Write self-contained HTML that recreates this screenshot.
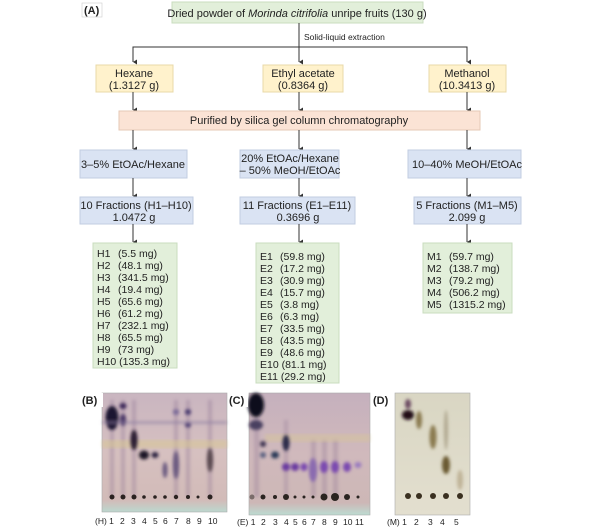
<!DOCTYPE html>
<html><head><meta charset="utf-8"><style>
html,body{margin:0;padding:0;background:#fff;width:600px;height:532px;overflow:hidden}
svg{display:block;font-family:"Liberation Sans",Arial,sans-serif}
</style></head><body>
<svg width="600" height="532" viewBox="0 0 600 532" xmlns="http://www.w3.org/2000/svg">
<defs>
<marker id="a" markerWidth="6" markerHeight="6" refX="3" refY="5" orient="auto" markerUnits="userSpaceOnUse"><path d="M0.5,1 L3,5 L5.5,1 Z" fill="#333"/></marker>
<linearGradient id="gB" x1="0" y1="0" x2="0" y2="1"><stop offset="0" stop-color="#c9b5c0"/><stop offset="0.5" stop-color="#d6c0c0"/><stop offset="0.9" stop-color="#d2bbb8"/><stop offset="1" stop-color="#bcd8cf"/></linearGradient>
<linearGradient id="gC" x1="0" y1="0" x2="0" y2="1"><stop offset="0" stop-color="#c5b0bd"/><stop offset="0.5" stop-color="#d0b9bc"/><stop offset="0.9" stop-color="#cdb7b6"/><stop offset="1" stop-color="#bcdcd2"/></linearGradient>
<linearGradient id="gD" x1="0" y1="0" x2="0" y2="1"><stop offset="0" stop-color="#d9d6c3"/><stop offset="1" stop-color="#e3dfcf"/></linearGradient>
<filter id="bl"><feGaussianBlur stdDeviation="1.5"/></filter>
</defs>
<g font-size="11" fill="#222">
<rect x="82" y="3" width="20" height="14" fill="#fff" stroke="#ccc" stroke-width="0.6"/>
<text x="84" y="14" font-weight="bold" font-size="11">(A)</text>
<rect x="172" y="2" width="251" height="21" fill="#e2efda" stroke="#c9dcbf"/>
<text x="297" y="17" text-anchor="middle">Dried powder of <tspan font-style="italic">Morinda citrifolia</tspan> unripe fruits (130 g)</text>
<line x1="299" y1="23" x2="299" y2="47" stroke="#333"/>
<text x="304" y="40" font-size="8.5">Solid-liquid extraction</text>
<polyline points="133,62 133,47 467,47 467,62" fill="none" stroke="#333" marker-end="url(#a)"/>
<line x1="133" y1="47" x2="133" y2="62" stroke="#333" marker-end="url(#a)"/>
<line x1="299" y1="47" x2="299" y2="62" stroke="#333" marker-end="url(#a)"/>
<rect x="96" y="65" width="77" height="27" fill="#fff2cc" stroke="#e8d9a8"/>
<text x="134" y="77" text-anchor="middle">Hexane</text><text x="134" y="89" text-anchor="middle">(1.3127 g)</text>
<rect x="263" y="65" width="80" height="27" fill="#fff2cc" stroke="#e8d9a8"/>
<text x="303" y="77" text-anchor="middle">Ethyl acetate</text><text x="303" y="89" text-anchor="middle">(0.8364 g)</text>
<rect x="429" y="65" width="77" height="27" fill="#fff2cc" stroke="#e8d9a8"/>
<text x="467" y="77" text-anchor="middle">Methanol</text><text x="467" y="89" text-anchor="middle">(10.3413 g)</text>
<line x1="133" y1="92" x2="133" y2="110" stroke="#333" marker-end="url(#a)"/>
<line x1="299" y1="92" x2="299" y2="110" stroke="#333" marker-end="url(#a)"/>
<line x1="467" y1="92" x2="467" y2="110" stroke="#333" marker-end="url(#a)"/>
<rect x="119" y="111" width="361" height="19" fill="#fbe3d5" stroke="#e6c8b6"/>
<text x="299" y="124" text-anchor="middle">Purified by silica gel column chromatography</text>
<line x1="133" y1="130" x2="133" y2="149" stroke="#333" marker-end="url(#a)"/>
<line x1="299" y1="130" x2="299" y2="149" stroke="#333" marker-end="url(#a)"/>
<line x1="467" y1="130" x2="467" y2="149" stroke="#333" marker-end="url(#a)"/>
<rect x="80" y="150" width="107" height="28" fill="#dae3f3" stroke="#c2cde2"/>
<text x="133" y="168" text-anchor="middle">3–5% EtOAc/Hexane</text>
<rect x="240" y="150" width="99" height="28" fill="#dae3f3" stroke="#c2cde2"/>
<text x="290" y="162" text-anchor="middle">20% EtOAc/Hexane</text><text x="290" y="174" text-anchor="middle">– 50% MeOH/EtOAc</text>
<rect x="408" y="150" width="113" height="28" fill="#dae3f3" stroke="#c2cde2"/>
<text x="467" y="168" text-anchor="middle">10–40% MeOH/EtOAc</text>
<line x1="133" y1="178" x2="133" y2="196" stroke="#333" marker-end="url(#a)"/>
<line x1="299" y1="178" x2="299" y2="196" stroke="#333" marker-end="url(#a)"/>
<line x1="467" y1="178" x2="467" y2="196" stroke="#333" marker-end="url(#a)"/>
<rect x="80" y="197" width="113" height="27" fill="#dae3f3" stroke="#c2cde2"/>
<text x="136" y="209" text-anchor="middle">10 Fractions (H1–H10)</text><text x="134" y="221" text-anchor="middle">1.0472 g</text>
<rect x="240" y="197" width="115" height="27" fill="#dae3f3" stroke="#c2cde2"/>
<text x="297" y="209" text-anchor="middle">11 Fractions (E1–E11)</text><text x="298" y="221" text-anchor="middle">0.3696 g</text>
<rect x="414" y="197" width="107" height="27" fill="#dae3f3" stroke="#c2cde2"/>
<text x="467" y="209" text-anchor="middle">5 Fractions (M1–M5)</text><text x="467" y="221" text-anchor="middle">2.099 g</text>
<line x1="133" y1="224" x2="133" y2="242" stroke="#333" marker-end="url(#a)"/>
<line x1="299" y1="224" x2="299" y2="242" stroke="#333" marker-end="url(#a)"/>
<line x1="467" y1="224" x2="467" y2="242" stroke="#333" marker-end="url(#a)"/>
<rect x="93" y="243" width="84" height="125" fill="#e2efda" stroke="#c9dcbf"/>
<g font-size="10.5">
<text x="97" y="257">H1</text><text x="118" y="257">(5.5 mg)</text>
<text x="97" y="269">H2</text><text x="118" y="269">(48.1 mg)</text>
<text x="97" y="281">H3</text><text x="118" y="281">(341.5 mg)</text>
<text x="97" y="293">H4</text><text x="118" y="293">(19.4 mg)</text>
<text x="97" y="305">H5</text><text x="118" y="305">(65.6 mg)</text>
<text x="97" y="317">H6</text><text x="118" y="317">(61.2 mg)</text>
<text x="97" y="329">H7</text><text x="118" y="329">(232.1 mg)</text>
<text x="97" y="341">H8</text><text x="118" y="341">(65.5 mg)</text>
<text x="97" y="353">H9</text><text x="118" y="353">(73 mg)</text>
<text x="97" y="365">H10 (135.3 mg)</text>
</g>
<rect x="256" y="243" width="83" height="140" fill="#e2efda" stroke="#c9dcbf"/>
<g font-size="10.5">
<text x="260" y="260">E1</text><text x="280" y="260">(59.8 mg)</text>
<text x="260" y="272">E2</text><text x="280" y="272">(17.2 mg)</text>
<text x="260" y="284">E3</text><text x="280" y="284">(30.9 mg)</text>
<text x="260" y="296">E4</text><text x="280" y="296">(15.7 mg)</text>
<text x="260" y="308">E5</text><text x="280" y="308">(3.8 mg)</text>
<text x="260" y="320">E6</text><text x="280" y="320">(6.3 mg)</text>
<text x="260" y="332">E7</text><text x="280" y="332">(33.5 mg)</text>
<text x="260" y="344">E8</text><text x="280" y="344">(43.5 mg)</text>
<text x="260" y="356">E9</text><text x="280" y="356">(48.6 mg)</text>
<text x="260" y="368">E10 (81.1 mg)</text>
<text x="260" y="380">E11 (29.2 mg)</text>
</g>
<rect x="423" y="243" width="89" height="70" fill="#e2efda" stroke="#c9dcbf"/>
<g font-size="10.5">
<text x="427" y="260">M1</text><text x="449" y="260">(59.7 mg)</text>
<text x="427" y="272">M2</text><text x="449" y="272">(138.7 mg)</text>
<text x="427" y="284">M3</text><text x="449" y="284">(79.2 mg)</text>
<text x="427" y="296">M4</text><text x="449" y="296">(506.2 mg)</text>
<text x="427" y="308">M5</text><text x="449" y="308">(1315.2 mg)</text>
</g>

<!-- TLC B -->
<rect x="102" y="393" width="125" height="119" fill="url(#gB)" stroke="#aaa" stroke-width="0.6"/>
<g filter="url(#bl)" opacity="0.35" fill="#8a7090">
<rect x="110" y="400" width="4" height="97"/><rect x="121" y="400" width="4" height="97"/><rect x="132" y="400" width="4" height="97"/><rect x="174" y="400" width="4" height="97"/><rect x="186" y="400" width="4" height="97"/><rect x="208" y="400" width="4" height="97"/>
</g>
<rect x="102" y="440" width="125" height="8" fill="#d8c890" opacity="0.5" filter="url(#bl)"/>
<g filter="url(#bl)">
<ellipse cx="112" cy="418" rx="6.5" ry="12" fill="#1c1230"/>
<ellipse cx="123" cy="406" rx="3.5" ry="3" fill="#3a2858"/>
<ellipse cx="123" cy="420" rx="3" ry="6" fill="#4b3868"/>
<ellipse cx="134" cy="440" rx="3.5" ry="10" fill="#2a1a30"/>
<ellipse cx="144" cy="455" rx="5" ry="4.5" fill="#1a1426"/>
<ellipse cx="155" cy="455" rx="3.5" ry="3" fill="#2a2440"/>
<ellipse cx="165" cy="470" rx="2.5" ry="8" fill="#6a5a80"/>
<ellipse cx="176" cy="465" rx="3" ry="14" fill="#6a5a80"/>
<ellipse cx="188" cy="412" rx="3" ry="3" fill="#4a3a70"/>
<ellipse cx="188" cy="425" rx="3" ry="2.5" fill="#4a3a70"/>
<ellipse cx="176" cy="412" rx="3" ry="3" fill="#7a6a98"/>
<ellipse cx="210" cy="460" rx="3" ry="12" fill="#5a4a50"/>
<rect x="102" y="421" width="125" height="3" fill="#8a7aa0" opacity="0.5"/>
</g>
<g fill="#2a2220">
<circle cx="112" cy="497" r="2.5"/><circle cx="123" cy="497" r="2.5"/><circle cx="134" cy="497" r="2.5"/><circle cx="144" cy="497" r="1.8"/><circle cx="155" cy="497" r="1.8"/><circle cx="165" cy="497" r="1.8"/><circle cx="176" cy="497" r="2.2"/><circle cx="188" cy="497" r="2"/><circle cx="198" cy="497" r="1.5"/><circle cx="210" cy="497" r="2.5"/>
</g>
<rect x="80" y="393" width="23" height="14" fill="#fff"/>
<text x="82" y="404" font-weight="bold">(B)</text>
<g font-size="8.5"><text x="95" y="524">(H) 1</text><text x="120" y="524">2</text><text x="131" y="524">3</text><text x="142" y="524">4</text><text x="153" y="524">5</text><text x="163" y="524">6</text><text x="174" y="524">7</text><text x="186" y="524">8</text><text x="197" y="524">9</text><text x="208" y="524">10</text></g>

<!-- TLC C -->
<rect x="249" y="393" width="121" height="122" fill="url(#gC)" stroke="#aaa" stroke-width="0.6"/>
<g filter="url(#bl)" opacity="0.3" fill="#8a7090">
<rect x="254" y="400" width="5" height="97"/><rect x="284" y="420" width="4" height="77"/><rect x="311" y="440" width="5" height="57"/><rect x="322" y="440" width="5" height="57"/><rect x="333" y="440" width="5" height="57"/>
</g>
<rect x="265" y="434" width="105" height="8" fill="#d8c890" opacity="0.4" filter="url(#bl)"/>
<g filter="url(#bl)">
<ellipse cx="256" cy="405" rx="8" ry="12" fill="#10101e"/>
<ellipse cx="256" cy="425" rx="7" ry="5" fill="#4a4060"/>
<ellipse cx="263" cy="444" rx="3" ry="3" fill="#3a3050"/>
<ellipse cx="263" cy="455" rx="3" ry="3" fill="#5a6080"/>
<ellipse cx="275" cy="455" rx="4" ry="3.5" fill="#2a3a58"/>
<ellipse cx="286" cy="443" rx="3.5" ry="8" fill="#2a2a48"/>
<ellipse cx="286" cy="467" rx="4" ry="4" fill="#6a3aa0"/>
<ellipse cx="295" cy="467" rx="4" ry="4" fill="#6a3aa0"/>
<ellipse cx="304" cy="467" rx="3.5" ry="4" fill="#7a4ab0"/>
<ellipse cx="313" cy="470" rx="4" ry="12" fill="#8a6ab0"/>
<ellipse cx="324" cy="467" rx="4" ry="6" fill="#7a4ab0"/>
<ellipse cx="335" cy="467" rx="4" ry="6" fill="#7a4ab0"/>
<ellipse cx="347" cy="467" rx="4" ry="5" fill="#7a4ab0"/>
<ellipse cx="358" cy="465" rx="3.5" ry="3" fill="#9a7ac0"/>
</g>
<g fill="#2a2420">
<circle cx="252" cy="497" r="2.5" opacity="0.5"/><circle cx="263" cy="497" r="2.5"/><circle cx="275" cy="497" r="2"/><circle cx="286" cy="497" r="3"/><circle cx="295" cy="497" r="1.5"/><circle cx="304" cy="497" r="1.5"/><circle cx="313" cy="497" r="1.5"/><circle cx="324" cy="497" r="3.5"/><circle cx="335" cy="497" r="4"/><circle cx="347" cy="497" r="3"/><circle cx="358" cy="497" r="1.5"/>
</g>
<rect x="228" y="393" width="20" height="14" fill="#fff"/>
<text x="229" y="404" font-weight="bold">(C)</text>
<g font-size="8.5"><text x="237" y="525">(E) 1</text><text x="261" y="525">2</text><text x="273" y="525">3</text><text x="284" y="525">4</text><text x="293" y="525">5</text><text x="302" y="525">6</text><text x="311" y="525">7</text><text x="322" y="525">8</text><text x="333" y="525">9</text><text x="343" y="525">10</text><text x="355" y="525">11</text></g>

<!-- TLC D -->
<rect x="395" y="393" width="75" height="122" fill="url(#gD)" stroke="#aaa" stroke-width="0.6"/>
<g filter="url(#bl)">
<ellipse cx="408" cy="415" rx="6" ry="5" fill="#200a18"/>
<ellipse cx="408" cy="404" rx="3" ry="5" fill="#6a4a60"/>
<ellipse cx="419" cy="420" rx="3" ry="9" fill="#8a7a50"/>
<ellipse cx="433" cy="437" rx="3.5" ry="12" fill="#8a7a50"/>
<ellipse cx="446" cy="465" rx="4" ry="9" fill="#6a5a30"/>
<ellipse cx="446" cy="430" rx="2" ry="20" fill="#b0a890"/>
<ellipse cx="460" cy="480" rx="3" ry="10" fill="#c0b498"/>
</g>
<g fill="#3a3020"><circle cx="408" cy="496" r="3"/><circle cx="419" cy="496" r="3"/><circle cx="433" cy="496" r="3"/><circle cx="446" cy="496" r="3"/><circle cx="460" cy="496" r="3"/></g>
<rect x="372" y="393" width="21" height="14" fill="#fff"/>
<text x="373" y="404" font-weight="bold">(D)</text>
<g font-size="8.5"><text x="387" y="525">(M) 1</text><text x="414" y="525">2</text><text x="428" y="525">3</text><text x="440" y="525">4</text><text x="454" y="525">5</text></g>
</g>
</svg>
</body></html>
